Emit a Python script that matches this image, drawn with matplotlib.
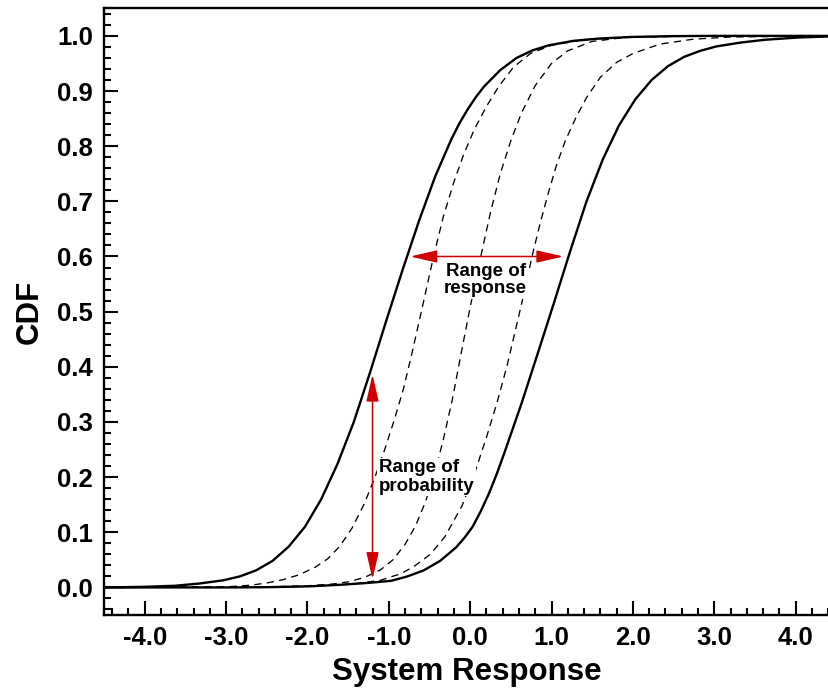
import matplotlib
matplotlib.use("Agg")
import matplotlib.pyplot as plt
from matplotlib.ticker import MultipleLocator, FormatStrFormatter

plt.rcParams['font.family'] = ['Liberation Sans', 'DejaVu Sans']
plt.rcParams['axes.unicode_minus'] = False

# ---- data ----
left_x = [-4.5, -4.03, -3.63, -3.33, -3.03, -2.83, -2.63, -2.43, -2.23, -2.03, -1.83, -1.63,
          -1.43, -1.23, -1.03, -0.83, -0.63, -0.43, -0.23, -0.13, -0.03, 0.07, 0.17, 0.37, 0.57,
          0.77, 0.97, 1.27, 1.57, 1.97, 2.47, 2.97, 4.41]
left_y = [0.0, 0.001, 0.003, 0.007, 0.013, 0.020, 0.031, 0.048, 0.074, 0.110, 0.160, 0.224,
          0.300, 0.390, 0.484, 0.576, 0.664, 0.745, 0.813, 0.842, 0.867, 0.889, 0.908, 0.938, 0.960,
          0.974, 0.983, 0.991, 0.995, 0.998, 0.9995, 1.0, 1.0]

right_x = [-4.5, -2.97, -2.47, -1.97, -1.57, -1.27, -0.97, -0.77, -0.57, -0.37, -0.17, -0.07,
           0.03, 0.13, 0.23, 0.33, 0.43, 0.63, 0.83, 1.03, 1.23, 1.43, 1.63, 1.83, 2.03, 2.23,
           2.43, 2.63, 2.83, 3.03, 3.33, 3.63, 4.03, 4.41]
right_y = [0.0, 0.0, 0.0005, 0.002, 0.005, 0.008, 0.012, 0.020, 0.031, 0.048, 0.073, 0.090,
           0.110, 0.138, 0.170, 0.207, 0.248, 0.333, 0.424, 0.516, 0.610, 0.700, 0.776, 0.838,
           0.885, 0.920, 0.945, 0.962, 0.973, 0.981, 0.988, 0.993, 0.997, 0.999]

dash1_x = [-4.5, -3.0, -2.7, -2.5, -2.3, -2.1, -1.9, -1.75, -1.6, -1.45, -1.3, -1.17, -1.05,
           -0.93, -0.82, -0.71, -0.6, -0.45, -0.33, -0.2, -0.08, 0.05, 0.2, 0.35, 0.53, 0.74,
           1.0, 1.4, 2.0, 3.0, 4.41]
dash1_y = [0.0, 0.001, 0.004, 0.008, 0.014, 0.023, 0.037, 0.052, 0.075, 0.108, 0.152, 0.200, 0.250,
           0.305, 0.360, 0.428, 0.500, 0.600, 0.672, 0.735, 0.785, 0.830, 0.872, 0.908, 0.943, 0.968,
           0.983, 0.993, 0.998, 1.0, 1.0]

dash2_x = [-4.5, -2.5, -2.0, -1.7, -1.5, -1.3, -1.1, -0.95, -0.8, -0.67, -0.55, -0.44, -0.33,
           -0.22, -0.11, 0.0, 0.13, 0.25, 0.37, 0.5, 0.63, 0.8, 1.0, 1.2, 1.5, 1.9, 2.5, 3.2, 4.41]
dash2_y = [0.0, 0.001, 0.003, 0.006, 0.010, 0.018, 0.032, 0.050, 0.078, 0.112, 0.155, 0.205, 0.268,
           0.340, 0.425, 0.508, 0.600, 0.680, 0.750, 0.810, 0.860, 0.910, 0.950, 0.973, 0.990, 0.997,
           0.999, 1.0, 1.0]

dash3_x = [-4.5, -2.5, -1.8, -1.4, -1.1, -0.85, -0.69, -0.49, -0.31, -0.1, 0.05, 0.2, 0.33, 0.45,
           0.57, 0.68, 0.76, 0.86, 0.96, 1.06, 1.17, 1.3, 1.43, 1.6, 1.8, 2.0, 2.33, 2.74, 3.2, 4.41]
dash3_y = [0.0, 0.0, 0.003, 0.007, 0.013, 0.025, 0.038, 0.060, 0.092, 0.148, 0.205, 0.272, 0.335,
           0.400, 0.475, 0.545, 0.600, 0.660, 0.715, 0.765, 0.810, 0.852, 0.888, 0.925, 0.952, 0.968,
           0.985, 0.994, 0.998, 1.0]

x_ticks = [-4.0, -3.0, -2.0, -1.0, 0.0, 1.0, 2.0, 3.0, 4.0]
y_ticks = [0.0, 0.1, 0.2, 0.3, 0.4, 0.5, 0.6, 0.7, 0.8, 0.9, 1.0]

resp_arrow = (-0.737, 1.146, 0.60)    # x_start, x_end, y
prob_arrow = (-1.20, 0.015, 0.386)    # x, y_start, y_end

# ---- figure ----
fig = plt.figure(figsize=(8.29, 6.94), dpi=100)
ax = fig.add_axes([104 / 829, 1 - 615 / 694, 1 - 104 / 829, (615 - 8.3) / 694])

ax.plot(left_x, left_y, color='black', lw=1.7, zorder=3)
ax.plot(right_x, right_y, color='black', lw=1.7, zorder=3)
for dx, dy in [(dash1_x, dash1_y), (dash2_x, dash2_y), (dash3_x, dash3_y)]:
    ax.plot(dx, dy, color='black', lw=0.95, dashes=(5.5, 4), zorder=2)

red = '#d00000'
ax.annotate('', xy=(resp_arrow[1], resp_arrow[2]), xytext=(resp_arrow[0], resp_arrow[2]),
            arrowprops=dict(arrowstyle='<|-|>,head_length=1.65,head_width=0.38',
                            mutation_scale=10, color=red, lw=1.1,
                            shrinkA=0, shrinkB=0), zorder=5)
ax.annotate('', xy=(prob_arrow[0], prob_arrow[2]), xytext=(prob_arrow[0], prob_arrow[1]),
            arrowprops=dict(arrowstyle='<|-|>,head_length=1.65,head_width=0.38',
                            mutation_scale=10, color=red, lw=1.1,
                            shrinkA=0, shrinkB=0), zorder=5)

ax.text(0.19, 0.557, 'Range of\nresponse', ha='center', va='center', fontsize=13.5,
        fontweight='bold', linespacing=1.0, zorder=4,
        bbox=dict(facecolor='white', edgecolor='none', pad=1.5))
ax.text(-1.125, 0.200, 'Range of\nprobability', ha='left', va='center', fontsize=13.5,
        fontweight='bold', linespacing=1.1, zorder=4,
        bbox=dict(facecolor='white', edgecolor='none', pad=1.0))

ax.set_xlim(-4.5, 4.41)
ax.set_ylim(-0.05, 1.05)
ax.set_xticks(x_ticks)
ax.set_yticks(y_ticks)
ax.xaxis.set_major_formatter(FormatStrFormatter('%.1f'))
ax.yaxis.set_major_formatter(FormatStrFormatter('%.1f'))
ax.xaxis.set_minor_locator(MultipleLocator(0.2))
ax.yaxis.set_minor_locator(MultipleLocator(0.02))

ax.tick_params(which='both', direction='in', top=False, right=False, width=1.5)
ax.tick_params(which='major', length=10, labelsize=18.5, pad=8)
ax.tick_params(which='minor', length=5)
for lab in ax.get_xticklabels() + ax.get_yticklabels():
    lab.set_fontweight('bold')

for s in ['left', 'bottom', 'top']:
    ax.spines[s].set_linewidth(1.7)
ax.spines['right'].set_visible(False)

ax.set_xlabel('System Response', fontsize=22.5, fontweight='bold', labelpad=5)
ax.set_ylabel('CDF', fontsize=22.5, fontweight='bold', labelpad=9)

fig.savefig('out.png', dpi=100)
